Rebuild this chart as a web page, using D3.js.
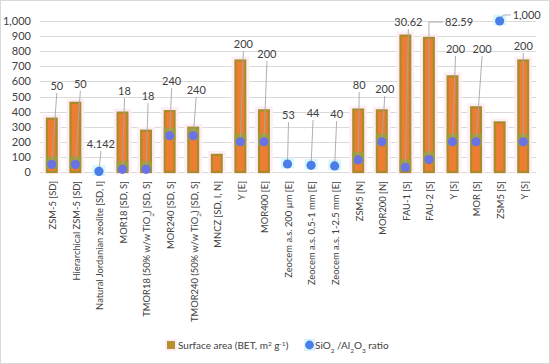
<!DOCTYPE html>
<html>
<head>
<meta charset="utf-8">
<script src="https://cdn.jsdelivr.net/npm/d3@7"></script>
<style>
  body { margin: 0; background: #fff; }
  text { font-family: Lato, "Open Sans", sans-serif; fill: #404040; }
</style>
</head>
<body>
<svg id="chart" width="550" height="364"></svg>
<script>
// categories (TiO2 gets a subscript when drawn)
const categories = [
  'ZSM-5 [SD]', 'Hierarchical ZSM-5 [SD]', 'Natural Jordanian zeolite [SD, I]',
  'MOR18 [SD, S]', 'TMOR18 (50% w/w TiO2) [SD, S]', 'MOR240 [SD, S]',
  'TMOR240 (50% w/w TiO2) [SD, S]', 'MNCZ [SD, I, N]', 'Y [E]', 'MOR400 [E]',
  'Zeocem a.s. 200 µm [E]', 'Zeocem a.s. 0.5-1 mm [E]', 'Zeocem a.s. 1-2.5 mm [E]',
  'ZSM5 [N]', 'MOR200 [N]', 'FAU-1 [S]', 'FAU-2 [S]', 'Y [S]', 'MOR [S]', 'ZSM5 [S]', 'Y [S] '
];
// surface area (BET, m2/g)
const surfaceArea = [360, 465, 0, 400, 280, 410, 300, 120, 745, 415, 0, 0, 0, 420, 415, 910, 895, 640, 435, 335, 745];
// SiO2/Al2O3 ratio (null = not reported)
const siAlRatio = [50, 50, 4.142, 18, 18, 240, 240, null, 200, 200, 53, 44, 40, 80, 200, 30.62, 82.59, 200, 200, 1000, 200];
const ratioLabels = ['50', '50', '4.142', '18', '18', '240', '240', '', '200', '200', '53', '44', '40', '80', '200', '30.62', '82.59', '200', '200', '1,000', '200'];
// where the data labels sit, in axis units, and their sideways shift
const labelAt = [570, 583, 185, 536, 503, 603, 543, null, 848, 781, 377, 391, 384, 576, 550, 993, 993, 815, 815, 1040, 834];
const labelShift = [5, 5, 2, 2, 2, 2, 3, 0, 3, 3, 1, 2, 2, 1, 3, 3, 26, 3, 6, 23, 0];
const elbow = [false, false, false, false, false, false, false, false, false, false, false, false, false, false, false, false, true, false, false, true, false];
const yTicks = [0, 100, 200, 300, 400, 500, 600, 700, 800, 900, 1000];

const svg = d3.select('#chart');
const width = +svg.attr('width');
const height = +svg.attr('height');
const margin = { left: 40, right: 15, top: 21, bottom: 192 };

// outer frame
svg.append('rect')
  .attr('x', 0.5).attr('y', 0.5)
  .attr('width', width - 1).attr('height', height - 1)
  .attr('fill', '#fff').attr('stroke', '#d9d9d9');

const x = d3.scaleBand()
  .domain(d3.range(categories.length))
  .range([margin.left, width - margin.right])
  .paddingInner(0.5).paddingOuter(0.25);

const y = d3.scaleLinear()
  .domain([0, 1000])
  .range([height - margin.bottom, margin.top]);

const cx = i => x(i) + x.bandwidth() / 2;

// grid
svg.append('g')
  .selectAll('line').data(yTicks).join('line')
    .attr('x1', margin.left).attr('x2', width - margin.right + 1)
    .attr('y1', d => Math.round(y(d)) + 0.5).attr('y2', d => Math.round(y(d)) + 0.5)
    .attr('stroke', '#d9d9d9');

// y axis labels
const yAxis = svg.append('g')
  .attr('transform', `translate(${margin.left - 9},0)`)
  .call(d3.axisLeft(y).tickValues(yTicks).tickFormat(d3.format(',')).tickSize(0).tickPadding(0));
yAxis.select('.domain').remove();
yAxis.selectAll('text').style('font-size', '11px').attr('fill', '#404040');

// pale halos behind dots
const hasDot = d3.range(categories.length).filter(i => siAlRatio[i] != null);
svg.append('g')
  .selectAll('rect').data(hasDot).join('rect')
    .attr('x', i => cx(i) - 6.5).attr('y', i => y(siAlRatio[i]) - 6.5)
    .attr('width', 13).attr('height', 11)
    .attr('fill', '#d9f7fb');

// bars with a faint pink glow
const withBar = d3.range(categories.length).filter(i => surfaceArea[i] > 0);
svg.append('g')
  .selectAll('rect').data(withBar).join('rect')
    .attr('x', i => x(i) - 3).attr('y', i => y(surfaceArea[i]) - 3)
    .attr('width', x.bandwidth() + 6).attr('height', i => y(0) - y(surfaceArea[i]) + 5)
    .attr('fill', '#fdeef5');
svg.append('g')
  .selectAll('rect').data(withBar).join('rect')
    .attr('x', i => x(i) + 1).attr('y', i => y(surfaceArea[i]) + 1)
    .attr('width', x.bandwidth() - 2).attr('height', i => y(0) - y(surfaceArea[i]) - 1)
    .attr('fill', '#ed7d31')
    .attr('stroke', '#a88c2c').attr('stroke-width', 2.2);

// greenish band where the ratio marker falls on a bar
svg.append('g')
  .selectAll('rect').data(hasDot.filter(i => surfaceArea[i] > siAlRatio[i])).join('rect')
    .attr('x', i => x(i)).attr('y', i => Math.max(y(siAlRatio[i]) - 8, y(surfaceArea[i])))
    .attr('width', x.bandwidth())
    .attr('height', i => Math.min(y(0), y(siAlRatio[i]) + 4) - Math.max(y(siAlRatio[i]) - 8, y(surfaceArea[i])))
    .attr('fill', '#8fa540').attr('opacity', 0.75);

// leader lines
const labelled = hasDot.filter(i => ratioLabels[i] !== '');
svg.append('g')
  .selectAll('path').data(labelled).join('path')
    .attr('d', i => {
      const x0 = cx(i), y0 = y(siAlRatio[i]);
      const lx = cx(i) + labelShift[i], ly = y(labelAt[i]);
      if (elbow[i]) {
        const ex = x0 + (i === 19 ? 5 : 0);
        return `M${x0},${y0 - 3}L${ex},${ly}L${lx - 12},${ly}`;
      }
      return `M${x0},${y0}L${lx},${ly + 7}`;
    })
    .attr('fill', 'none').attr('stroke', '#a6a6a6').attr('stroke-width', 0.9);

// ratio markers
svg.append('g')
  .selectAll('circle').data(hasDot).join('circle')
    .attr('cx', cx).attr('cy', i => y(siAlRatio[i]))
    .attr('r', 4.6)
    .attr('fill', i => surfaceArea[i] > siAlRatio[i] ? '#6b72e6' : '#4a7de8');

// data labels
svg.append('g')
  .selectAll('text').data(labelled).join('text')
    .attr('x', i => cx(i) + labelShift[i]).attr('y', i => y(labelAt[i]))
    .attr('dy', '0.35em')
    .attr('text-anchor', i => elbow[i] ? 'start' : 'middle')
    .attr('dx', i => elbow[i] ? -10 : 0)
    .style('font-size', '11px')
    .text(i => ratioLabels[i]);

// category labels, rotated
const xl = svg.append('g')
  .selectAll('text').data(d3.range(categories.length)).join('text')
    .attr('transform', i => `translate(${cx(i) + 1},${y(0) + 9}) rotate(-90)`)
    .attr('text-anchor', 'end')
    .attr('dy', '0.35em')
    .style('font-size', '9.4px');
xl.each(function (i) {
  const t = d3.select(this);
  const pieces = categories[i].trim().split('TiO2');
  pieces.forEach((p, k) => {
    if (k > 0) {
      t.append('tspan').text('TiO');
      t.append('tspan').attr('baseline-shift', 'sub').style('font-size', '6.5px').text('2');
    }
    t.append('tspan').text(p);
  });
});

// legend
const lg = svg.append('g').attr('transform', 'translate(167,345)');
lg.append('rect').attr('x', -2).attr('y', -6).attr('width', 12).attr('height', 12).attr('fill', '#fdeef5');
lg.append('rect').attr('x', 0).attr('y', -4).attr('width', 8).attr('height', 8).attr('fill', '#b8912f');
const t1 = lg.append('text').attr('x', 11).attr('dy', '0.35em').style('font-size', '10px');
t1.append('tspan').text('Surface area (BET, m');
t1.append('tspan').attr('baseline-shift', 'super').style('font-size', '6.5px').text('2');
t1.append('tspan').text(' g');
t1.append('tspan').attr('baseline-shift', 'super').style('font-size', '6.5px').text('-1');
t1.append('tspan').text(')');
const g2 = lg.append('g').attr('transform', 'translate(138,0)');
g2.append('rect').attr('x', -1).attr('y', -6).attr('width', 11).attr('height', 12).attr('fill', '#d9f7fb');
g2.append('circle').attr('cx', 4.5).attr('cy', 0).attr('r', 4.4).attr('fill', '#4a7de8');
const t2 = g2.append('text').attr('x', 10).attr('dy', '0.35em').style('font-size', '10px');
t2.append('tspan').text('SiO');
t2.append('tspan').attr('baseline-shift', 'sub').style('font-size', '6.5px').text('2');
t2.append('tspan').text(' /Al');
t2.append('tspan').attr('baseline-shift', 'sub').style('font-size', '6.5px').text('2');
t2.append('tspan').text('O');
t2.append('tspan').attr('baseline-shift', 'sub').style('font-size', '6.5px').text('3');
t2.append('tspan').text(' ratio');
</script>
</body>
</html>
